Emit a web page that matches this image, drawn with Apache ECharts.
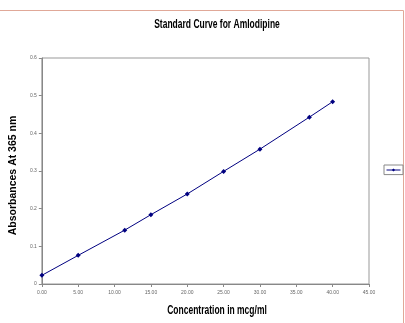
<!DOCTYPE html>
<html><head><meta charset="utf-8">
<script src="https://cdn.jsdelivr.net/npm/echarts@6/dist/echarts.min.js"></script>
<style>html,body{margin:0;padding:0;background:#fff}#c{width:405px;height:323px}</style>
</head><body><div id="c"></div>
<script>
var concentration = [0, 5, 11.4, 15, 20, 25, 30, 36.8, 40];
var absorbance = [0.023, 0.076, 0.143, 0.184, 0.239, 0.299, 0.358, 0.443, 0.484];
var xTicks = {min: 0, max: 45, interval: 5};
var yTicks = {min: 0, max: 0.6, interval: 0.1};
var titleText = 'Standard Curve for Amlodipine';
var xTitle = 'Concentration in mcg/ml';
var yTitle = 'Absorbances At 365 nm';

var chart = echarts.init(document.getElementById('c'), null, {renderer: 'canvas'});
var sans = '"Liberation Sans", Arial, sans-serif';
chart.setOption({
  animation: false,
  backgroundColor: '#fff',
  grid: {left: 24, right: 36, top: 58, bottom: 39, show: true, borderColor: '#999', borderWidth: 1, backgroundColor: 'transparent'},
  legend: {show: true, right: 2, top: 165, orient: 'vertical', itemWidth: 14, itemHeight: 4, itemGap: 0,
    padding: [3, 2, 3, 2], borderColor: '#888', borderWidth: 1, formatter: function(){return '';},
    data: ['Series1'], selectedMode: false,
    lineStyle: {width: 1}, itemStyle: {borderWidth: 0}},
  xAxis: {type: 'value', min: xTicks.min, max: xTicks.max, interval: xTicks.interval,
    axisLine: {show: true, lineStyle: {color: '#888'}},
    axisTick: {show: true, length: 3, lineStyle: {color: '#888'}},
    axisLabel: {fontSize: 5, color: '#666', margin: 6, fontFamily: sans,
      formatter: function(v){return v.toFixed(2);}},
    splitLine: {show: false}},
  yAxis: {type: 'value', min: yTicks.min, max: yTicks.max, interval: yTicks.interval,
    name: yTitle, nameLocation: 'middle', nameGap: 13,
    nameTextStyle: {fontFamily: sans, fontSize: 10.5, fontWeight: 'bold', color: '#000', padding: [0, 0, 0, -9]},
    axisLine: {show: true, lineStyle: {color: '#888'}},
    axisTick: {show: true, length: 3, lineStyle: {color: '#888'}},
    axisLabel: {fontSize: 5, color: '#666', margin: 5, fontFamily: sans,
      formatter: function(v){return v === 0 ? '0' : String(+v.toFixed(1));}},
    splitLine: {show: false}},
  series: [{name: 'Series1', type: 'line', data: concentration.map(function(x, i){return [x, absorbance[i]];}),
    symbol: 'diamond', symbolSize: 5, showAllSymbol: true,
    lineStyle: {color: '#000080', width: 1}, itemStyle: {color: '#000080'}}],
  graphic: [
    {type: 'rect', shape: {x: -5, y: 10.5, width: 408.5, height: 330},
      style: {fill: 'none', stroke: '#e0a898', lineWidth: 1}, silent: true},
    {type: 'text', x: 217, y: 25, scaleX: 0.68,
      style: {text: titleText, fontFamily: sans, fontSize: 12.5, fontWeight: 'bold', fill: '#000',
        textAlign: 'center', textVerticalAlign: 'middle'}},
    {type: 'text', x: 217, y: 311, scaleX: 0.68,
      style: {text: xTitle, fontFamily: sans, fontSize: 12.5, fontWeight: 'bold', fill: '#000',
        textAlign: 'center', textVerticalAlign: 'middle'}}
  ]
});
</script></body></html>
